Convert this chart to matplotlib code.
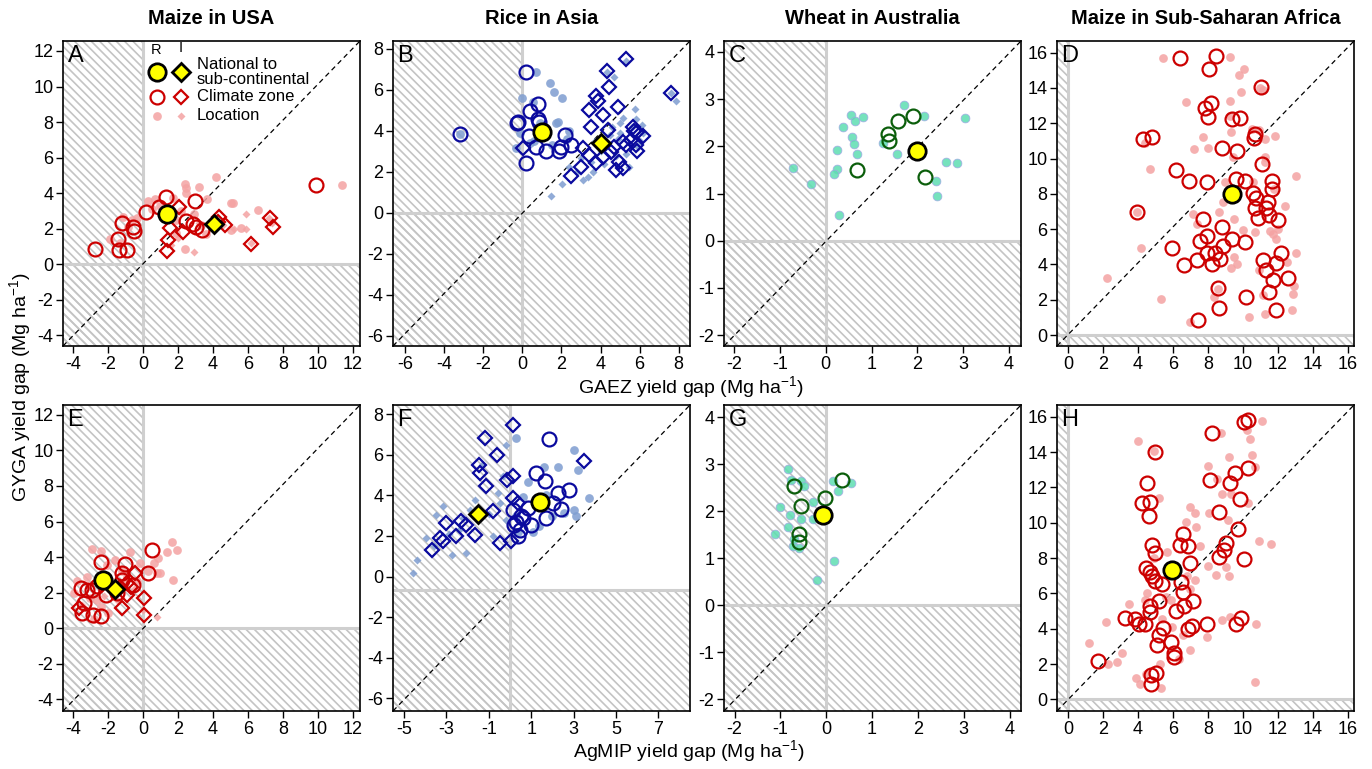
import matplotlib
matplotlib.use("Agg")
import matplotlib.pyplot as plt
from matplotlib.patches import Rectangle

plt.rcParams['font.family'] = ['Liberation Sans', 'DejaVu Sans']
plt.rcParams['axes.unicode_minus'] = False
plt.rcParams['mathtext.fontset'] = 'custom'
plt.rcParams['mathtext.rm'] = 'Liberation Sans'
plt.rcParams['mathtext.it'] = 'Liberation Sans:italic'
plt.rcParams['hatch.linewidth'] = 1.2

# ---------------- DATA ----------------
col_titles = ["Maize in USA", "Rice in Asia", "Wheat in Australia", "Maize in Sub-Saharan Africa"]
panel_letters = ["A", "B", "C", "D", "E", "F", "G", "H"]

# Panel A : Maize USA, GAEZ vs GYGA
A_nat_R = (1.35, 2.8)
A_nat_I = (4.05, 2.25)
A_cz_R_x = [9.9, 2.95, 1.33, 0.15, 0.9, -1.22, -0.55, -0.5, -1.43, -1.35, -0.9, -2.75, 2.45, 2.83, 3.02, 3.4]
A_cz_R_y = [4.47, 3.58, 3.78, 2.92, 3.2, 2.3, 2.1, 1.86, 1.41, 0.8, 0.82, 0.83, 2.43, 2.25, 2.1, 1.9]
A_cz_I_x = [2.08, 1.55, 2.26, 1.45, 1.35, 4.37, 4.68, 4.3, 7.23, 7.45, 6.15]
A_cz_I_y = [3.2, 2.03, 1.84, 1.37, 0.73, 2.68, 2.21, 2.35, 2.6, 2.08, 1.16]
A_loc_R_x = [4.18, 2.38, 2.43, 3.19, 2.47, 11.37, 5.04, 5.13, 6.56, 3.67, 0.29, 0.67, 1.71, -1.14, -0.34,
             -0.86, -1.9, -1.33, 2.38, 5.04, 5.6, 1.9, 1.0, 2.2, 2.9, 3.3, -0.6, 0.5, 1.9, 3.6]
A_loc_R_y = [4.93, 4.5, 4.28, 4.37, 4.0, 4.47, 3.47, 3.43, 3.06, 3.66, 3.58, 3.66, 3.71, 2.68, 2.59,
             2.12, 1.41, 1.18, 0.84, 1.93, 2.03, 1.74, 3.3, 3.0, 2.8, 2.2, 2.5, 3.1, 2.5, 1.7]
A_loc_I_x = [5.89, 2.91, 5.89, 4.6, 6.2, 7.35, 4.1, 2.0, 1.6, 7.2, 5.2, 3.2]
A_loc_I_y = [2.81, 0.71, 1.97, 2.2, 1.2, 2.3, 2.6, 1.5, 1.1, 2.6, 2.0, 2.3]

# Panel B : Rice Asia, GAEZ vs GYGA
B_nat_R = (1.02, 3.97)
B_nat_I = (4.02, 3.43)
B_cz_R_x = [0.17, -3.19, 0.8, 0.37, 0.8, -0.22, 0.34, 0.71, 1.22, 1.9, 2.16, 2.5, 1.99, 0.2, 0.85, -0.27]
B_cz_R_y = [6.86, 3.85, 5.3, 4.98, 4.57, 4.42, 3.77, 3.24, 3.02, 3.02, 3.8, 3.32, 3.24, 2.42, 4.45, 4.37]
B_cz_I_x = [5.3, 4.31, 4.45, 3.77, 3.85, 3.4, 4.11, 4.87, 7.59, 3.51, 4.36, 5.64, 5.89, 6.15, 5.55, 5.81,
            5.89, 5.13, 3.09, 3.43, 3.77, 3.0, 2.5, 4.53, 4.96, 5.13, 4.79, 0.03, 4.11, 5.3, 5.7, 4.7]
B_cz_I_y = [7.5, 6.94, 6.13, 5.71, 5.48, 5.02, 4.78, 5.15, 5.84, 4.21, 4.05, 4.21, 3.97, 3.76, 3.56, 3.32,
            3.0, 3.48, 3.15, 2.83, 2.42, 2.26, 1.8, 2.99, 2.5, 2.18, 2.1, 3.15, 2.75, 3.3, 4.0, 3.2]
B_loc_R_x = [0.71, 1.39, 1.6, 2.04, 0.0, 0.54, 1.73, 2.41, -0.31, -3.19, 0.6, 1.5, 0.9, 1.2, -0.1, 2.3, 0.4, 1.85]
B_loc_R_y = [6.89, 6.33, 5.92, 5.59, 5.59, 5.43, 4.41, 4.02, 3.15, 3.85, 3.5, 3.3, 4.4, 3.9, 3.9, 3.6, 3.4, 4.45]
B_loc_I_x = [1.48, 2.04, 2.41, 3.34, 3.6, 4.7, 5.3, 4.35, 5.77, 7.84, 7.59, 5.13, 5.6, 4.6, 5.0, 5.47, 3.09,
             4.2, 6.1, 5.8, 4.0, 3.0, 3.7, 4.9, 5.9, 6.2, 4.5, 2.8, 3.5, 4.8, 5.3, 5.0, 6.0]
B_loc_I_y = [0.83, 1.41, 2.23, 1.77, 2.0, 6.65, 7.43, 6.9, 5.06, 5.46, 5.84, 4.62, 4.2, 4.2, 3.9, 2.26, 1.61,
             2.4, 4.3, 4.6, 3.0, 2.7, 3.5, 3.6, 3.2, 3.9, 3.8, 2.0, 2.5, 2.8, 2.9, 4.4, 3.5]

# Panel C : Wheat Australia, GAEZ vs GYGA
C_nat_R = (1.99, 1.9)
C_cz_R_x = [1.91, 1.58, 1.35, 1.38, 0.69, 2.17]
C_cz_R_y = [2.65, 2.53, 2.27, 2.12, 1.5, 1.35]
C_loc_R_x = [-0.71, -0.33, 0.56, 0.63, 0.81, 0.38, 0.57, 0.61, 0.25, 0.69, 0.25, 0.18, 0.29, 1.71, 2.14,
             3.03, 1.24, 1.56, 2.62, 2.87, 2.4, 2.43]
C_loc_R_y = [1.53, 1.21, 2.66, 2.53, 2.62, 2.41, 2.2, 2.05, 1.92, 1.83, 1.52, 1.41, 0.54, 2.87, 2.65,
             2.6, 2.08, 1.83, 1.66, 1.65, 1.26, 0.95]

# Panel D : Maize SSA, GAEZ vs GYGA
D_nat_R = (9.35, 8.0)
D_cz_R_x = [6.39, 8.45, 8.05, 11.01, 8.15, 7.82, 8.02, 9.39, 9.83, 4.29, 4.77, 10.69, 10.65, 8.78, 9.64,
            11.11, 6.16, 6.91, 7.92, 9.6, 10.11, 11.64, 11.64, 10.59, 10.74, 11.45, 11.35, 10.69, 10.88,
            11.51, 12.02, 3.95, 7.69, 8.78, 7.92, 7.55, 9.35, 10.11, 8.87, 5.92, 7.92, 8.4, 8.68, 8.26,
            7.35, 6.62, 12.21, 11.16, 11.35, 11.89, 11.74, 12.6, 11.51, 8.59, 10.17, 8.65, 11.89, 7.44]
D_cz_R_y = [15.72, 15.82, 15.1, 14.03, 13.13, 12.86, 12.37, 12.24, 12.28, 11.11, 11.2, 11.39, 11.17, 10.6,
            10.41, 9.7, 9.36, 8.72, 8.66, 8.85, 8.7, 8.72, 8.29, 8.04, 7.78, 7.53, 7.21, 7.21, 6.65, 6.82,
            6.53, 7.0, 6.59, 6.12, 5.59, 5.33, 5.46, 5.27, 5.03, 4.95, 4.65, 4.65, 4.33, 4.05, 4.27, 3.95,
            4.65, 4.24, 3.67, 4.11, 3.11, 3.26, 2.45, 2.67, 2.17, 1.56, 1.41, 0.85]
D_loc_R_x = [5.4, 9.29, 10.06, 9.79, 9.92, 11.13, 6.72, 9.29, 9.26, 7.69, 9.31, 10.53, 10.94, 11.83, 11.26,
             7.19, 8.0, 9.45, 11.26, 11.26, 4.68, 13.03, 8.97, 10.59, 11.79, 8.87, 12.4, 8.65, 7.16, 9.5,
             7.35, 10.02, 10.69, 11.58, 12.02, 11.74, 11.89, 4.14, 13.03, 9.48, 9.68, 9.31, 12.5, 10.94,
             2.23, 12.92, 12.88, 5.34, 8.36, 11.16, 10.36, 11.26, 12.79, 6.97, 3.95, 4.4, 11.0, 8.6]
D_loc_R_y = [15.72, 15.78, 15.1, 14.73, 13.75, 13.88, 13.18, 13.28, 12.43, 11.2, 11.49, 11.68, 11.64, 11.3,
             11.11, 10.55, 10.6, 10.11, 10.08, 9.79, 9.38, 9.0, 8.66, 8.66, 8.29, 7.53, 7.34, 6.97, 6.84,
             6.59, 6.31, 5.93, 5.84, 5.88, 6.03, 5.74, 5.46, 4.95, 4.65, 4.43, 4.05, 3.8, 4.14, 3.71, 3.26,
             2.77, 2.32, 2.07, 2.17, 2.26, 1.04, 1.17, 1.41, 0.72, 7.0, 10.9, 14.0, 2.6]

# Panel E : Maize USA, AgMIP vs GYGA
E_nat_R = (-2.26, 2.72)
E_nat_I = (-1.6, 2.2)
E_cz_R_x = [0.53, 0.29, -2.38, -1.05, -1.18, -3.56, -3.21, -2.89, -3.37, -3.46, -2.83, -2.41, -2.13, -0.55,
            -1.5, -2.6, -1.2]
E_cz_R_y = [4.41, 3.1, 3.75, 3.6, 3.13, 2.25, 2.16, 2.16, 1.41, 0.84, 0.75, 0.71, 1.88, 2.44, 2.0, 2.4, 2.7]
E_cz_I_x = [-0.48, -0.89, -0.93, -1.18, 0.06, 0.06, -3.65, -1.3, -0.7]
E_cz_I_y = [3.13, 2.53, 1.88, 1.16, 1.69, 0.75, 1.13, 2.3, 2.3]
E_loc_R_x = [1.67, 1.92, -2.89, -2.41, -1.6, -0.74, -0.17, 0.63, 0.87, 1.35, 0.82, 1.0, 1.73, -0.36, -2.03,
             -3.75, -3.02, -2.41, -2.0, -2.79, -3.94, -1.2, -2.6, -3.2, 0.3, -0.9, -1.9]
E_loc_R_y = [4.84, 4.41, 4.47, 4.32, 3.85, 4.26, 3.66, 3.66, 3.94, 4.26, 3.1, 3.1, 2.72, 2.63, 3.56,
             2.63, 1.69, 1.22, 0.84, 0.51, 1.97, 3.2, 1.6, 2.9, 3.2, 2.9, 2.2]
E_loc_I_x = [0.78, -0.5, -1.0, -2.2, -3.5, 0.0, -1.5]
E_loc_I_y = [0.62, 2.2, 2.6, 1.8, 1.3, 1.0, 1.6]

# Panel F : Rice Asia, AgMIP vs GYGA
F_nat_R = (1.42, 3.65)
F_nat_I = (-1.51, 3.08)
F_cz_R_x = [1.83, 1.23, 1.67, 2.8, 2.25, 2.41, 1.7, 1.0, 0.53, 0.21, 0.37, 2.01, 0.13, 0.84, 0.6, 0.3, 0.45]
F_cz_R_y = [6.77, 5.1, 4.73, 4.28, 4.11, 3.34, 2.88, 2.56, 2.96, 2.56, 1.98, 3.62, 3.29, 3.38, 2.9, 2.7, 2.3]
F_cz_I_x = [0.13, -1.2, -0.62, -1.48, -1.43, -1.15, -0.15, 0.13, 0.13, 0.37, 3.5, -0.81, -3.0, -2.29, -1.67,
            -2.53, -3.31, -3.7, -3.16, -0.49, 0.06, -2.06]
F_cz_I_y = [7.47, 6.81, 6.0, 5.5, 5.1, 4.47, 4.77, 4.93, 3.87, 3.62, 5.67, 3.21, 2.64, 2.72, 2.06,
            1.98, 1.9, 1.33, 1.73, 1.66, 1.73, 2.56]
F_loc_R_x = [0.29, 3.03, 3.19, 3.74, 3.03, 3.1, 2.25, 1.6, 0.84, 1.39, 2.56, 0.29, 0.6, 1.1, 2.0, 1.7, 0.4]
F_loc_R_y = [6.81, 6.21, 5.26, 3.87, 3.29, 2.96, 5.42, 5.42, 4.68, 2.47, 3.13, 2.96, 3.9, 2.2, 3.0, 4.0, 2.2]
F_loc_I_x = [-0.18, -0.57, -1.67, -3.16, -3.47, -3.94, -4.41, -4.57, -2.76, -2.06, -0.34, -0.49, -1.9, -2.4,
             -1.0, -0.8, -2.9, -3.6, -1.3, -0.2, -2.2]
F_loc_I_y = [6.49, 4.11, 3.78, 3.46, 3.05, 1.9, 0.84, 0.18, 1.08, 1.16, 4.93, 3.62, 3.3, 2.3,
             3.1, 2.0, 2.1, 1.5, 5.5, 2.8, 2.9]

# Panel G : Wheat Australia, AgMIP vs GYGA
G_nat_R = (-0.06, 1.91)
G_cz_R_x = [0.34, -0.02, -0.7, -0.55, -0.59, -0.59]
G_cz_R_y = [2.67, 2.29, 2.54, 2.12, 1.52, 1.34]
G_loc_R_x = [-0.84, -0.77, -0.55, -0.49, -1.0, -0.79, -0.55, -0.84, -1.11, -0.73, -0.59, -0.29, -0.29, 0.14,
             0.25, 0.54, 0.16, -0.2, -0.7, -0.05]
G_loc_R_y = [2.89, 2.67, 2.65, 2.54, 2.08, 1.92, 1.84, 1.66, 1.52, 1.27, 1.22, 2.19, 1.83, 2.65,
             2.42, 2.61, 0.95, 0.54, 1.4, 2.0]

# Panel H : Maize SSA, AgMIP vs GYGA
H_nat_R = (5.95, 7.34)
H_cz_R_x = [10.06, 10.27, 8.26, 4.96, 10.31, 9.54, 9.29, 8.15, 4.52, 4.26, 4.71, 4.64, 9.83, 8.65, 9.73,
            6.55, 6.39, 6.87, 4.83, 4.96, 9.03, 8.91, 8.65, 10.06, 6.97, 4.48, 4.71, 4.83, 4.96, 5.4, 6.49,
            6.55, 7.16, 6.62, 6.2, 5.21, 4.68, 4.68, 3.24, 3.82, 4.06, 4.39, 5.44, 5.21, 5.11, 5.92, 6.05,
            6.05, 6.87, 7.12, 7.96, 9.6, 9.92, 1.72, 5.06, 4.77, 4.77]
H_cz_R_y = [15.69, 15.82, 15.1, 13.99, 13.13, 12.81, 12.24, 12.43, 12.28, 11.11, 11.15, 10.4, 11.34, 10.6,
            9.66, 9.38, 8.72, 8.66, 8.72, 8.29, 8.85, 8.47, 8.04, 7.95, 7.72, 7.44, 7.19, 6.97, 6.72, 6.55,
            6.65, 6.08, 5.56, 5.27, 4.99, 5.56, 5.27, 4.95, 4.61, 4.56, 4.29, 4.24, 4.05, 3.63, 3.07, 3.26,
            2.64, 2.41, 3.99, 4.14, 4.24, 4.24, 4.61, 2.17, 1.51, 1.37, 0.85]
H_loc_R_x = [4.01, 4.92, 8.78, 11.07, 10.25, 10.4, 10.5, 9.22, 8.02, 10.71, 8.53, 8.8, 9.35, 5.21, 10.31,
             6.97, 7.25, 8.07, 6.77, 7.31, 9.16, 10.94, 11.64, 7.54, 5.69, 8.02, 9.06, 8.45, 9.22, 7.25,
             6.97, 5.88, 3.47, 4.39, 2.16, 5.38, 5.95, 6.58, 7.96, 8.82, 9.29, 10.78, 1.18, 3.11, 2.29,
             2.82, 5.25, 3.87, 4.1, 5.34, 4.45, 7.0, 6.34, 10.69, 4.9, 5.6, 6.8, 4.5]
H_loc_R_y = [14.65, 14.07, 15.1, 15.78, 15.25, 14.73, 13.84, 13.75, 13.24, 13.15, 12.47, 11.64, 11.64, 11.39,
             11.11, 10.89, 10.55, 10.58, 10.02, 9.76, 10.13, 8.98, 8.81, 8.66, 8.32, 7.57, 7.5, 7.06, 7.0,
             6.78, 6.27, 5.65, 5.42, 5.65, 4.39, 4.56, 4.11, 3.67, 3.54, 4.52, 4.67, 4.24, 3.2, 2.64, 2.02,
             2.13, 1.98, 1.19, 0.85, 0.62, 1.41, 2.79, 2.3, 1.0, 8.0, 5.8, 7.0, 6.0]

# axis settings per panel
ticks_usa = [-4, -2, 0, 2, 4, 6, 8, 10, 12]
ticks_rice = [-6, -4, -2, 0, 2, 4, 6, 8]
ticks_rice_agmip_x = [-5, -3, -1, 1, 3, 5, 7]
ticks_wheat = [-2, -1, 0, 1, 2, 3, 4]
ticks_ssa = [0, 2, 4, 6, 8, 10, 12, 14, 16]

# ---------------- STYLE ----------------
MAIZE = dict(cz='#CC0000', loc='#F4A3A3', loc_edge='none')
RICE = dict(cz='#0A0A9E', loc='#7E9DD0', loc_edge='none')
WHEAT = dict(cz='#0B5E0B', loc='#5EDDB2', loc_edge='#9FA8E4')
HATCH_COL = '#C4C4C4'

fig = plt.figure(figsize=(13.72, 7.69), dpi=100)

W, H = 1372.0, 769.0
col_left = [63, 393, 724, 1057]
col_w = 297
row_top = [41, 405]
row_h = [305, 306]


def make_ax(r, c):
    l = col_left[c] / W
    b = 1 - (row_top[r] + row_h[r]) / H
    return fig.add_axes([l, b, col_w / W, row_h[r] / H])


def draw(ax, xlim, ylim, xt, yt, y0, letter, sty, locR=None, locI=None, czR=None, czI=None,
         natR=None, natI=None):
    ax.set_xlim(*xlim)
    ax.set_ylim(*ylim)
    # hatched "invalid" regions
    ax.add_patch(Rectangle((xlim[0], ylim[0]), 0 - xlim[0], ylim[1] - ylim[0], facecolor='none',
                           edgecolor=HATCH_COL, hatch='\\\\\\\\', linewidth=0, zorder=0))
    ax.add_patch(Rectangle((xlim[0], ylim[0]), xlim[1] - xlim[0], y0 - ylim[0], facecolor='none',
                           edgecolor=HATCH_COL, hatch='\\\\\\\\', linewidth=0, zorder=0))
    ax.axvline(0, color='#CFCFCF', lw=2.2, zorder=1)
    ax.axhline(y0, color='#CFCFCF', lw=2.2, zorder=1)
    ax.plot([0, 1], [0, 1], transform=ax.transAxes, color='black', lw=0.9, ls=(0, (4, 3)), zorder=2)
    if locR is not None:
        ax.plot(locR[0], locR[1], 'o', ms=6.3, mfc=sty['loc'], mec=sty['loc_edge'], mew=0.6,
                alpha=0.85, ls='none', zorder=3)
    if locI is not None:
        ax.plot(locI[0], locI[1], 'D', ms=4.5, mfc=sty['loc'], mec='none', alpha=0.85, ls='none', zorder=3)
    if czR is not None:
        ax.plot(czR[0], czR[1], 'o', ms=10.0, mfc='none', mec=sty['cz'], mew=1.6, ls='none', zorder=4)
    if czI is not None:
        ax.plot(czI[0], czI[1], 'D', ms=7.6, mfc='none', mec=sty['cz'], mew=1.6, ls='none', zorder=4)
    if natR is not None:
        ax.plot([natR[0]], [natR[1]], 'o', ms=12.5, mfc='#FFFF00', mec='black', mew=2.0, zorder=5)
    if natI is not None:
        ax.plot([natI[0]], [natI[1]], 'D', ms=9.0, mfc='#FFFF00', mec='black', mew=2.0, zorder=5)
    ax.set_xticks(xt)
    ax.set_yticks(yt)
    ax.tick_params(direction='out', length=5, width=1, labelsize=13, pad=2, colors='black')
    for s in ax.spines.values():
        s.set_linewidth(1.2)
    ax.text(0.015, 0.988, letter, transform=ax.transAxes, ha='left', va='top', fontsize=17, zorder=6)


axA = make_ax(0, 0)
draw(axA, (-4.57, 12.4), (-4.6, 12.56), ticks_usa, ticks_usa, 0, 'A', MAIZE,
     (A_loc_R_x, A_loc_R_y), (A_loc_I_x, A_loc_I_y), (A_cz_R_x, A_cz_R_y), (A_cz_I_x, A_cz_I_y),
     A_nat_R, A_nat_I)
axB = make_ax(0, 1)
draw(axB, (-6.62, 8.58), (-6.49, 8.39), ticks_rice, ticks_rice, 0, 'B', RICE,
     (B_loc_R_x, B_loc_R_y), (B_loc_I_x, B_loc_I_y), (B_cz_R_x, B_cz_R_y), (B_cz_I_x, B_cz_I_y),
     B_nat_R, B_nat_I)
axC = make_ax(0, 2)
draw(axC, (-2.22, 4.26), (-2.23, 4.23), ticks_wheat, ticks_wheat, 0, 'C', WHEAT,
     (C_loc_R_x, C_loc_R_y), None, (C_cz_R_x, C_cz_R_y), None, C_nat_R, None)
axD = make_ax(0, 3)
draw(axD, (-0.64, 16.36), (-0.62, 16.66), ticks_ssa, ticks_ssa, 0, 'D', MAIZE,
     (D_loc_R_x, D_loc_R_y), None, (D_cz_R_x, D_cz_R_y), None, D_nat_R, None)
axE = make_ax(1, 0)
draw(axE, (-4.57, 12.4), (-4.65, 12.55), ticks_usa, ticks_usa, 0, 'E', MAIZE,
     (E_loc_R_x, E_loc_R_y), (E_loc_I_x, E_loc_I_y), (E_cz_R_x, E_cz_R_y), (E_cz_I_x, E_cz_I_y),
     E_nat_R, E_nat_I)
axF = make_ax(1, 1)
draw(axF, (-5.52, 8.49), (-6.62, 8.45), ticks_rice_agmip_x, ticks_rice, -0.65, 'F', RICE,
     (F_loc_R_x, F_loc_R_y), (F_loc_I_x, F_loc_I_y), (F_cz_R_x, F_cz_R_y), (F_cz_I_x, F_cz_I_y),
     F_nat_R, F_nat_I)
axG = make_ax(1, 2)
draw(axG, (-2.23, 4.25), (-2.25, 4.26), ticks_wheat, ticks_wheat, 0, 'G', WHEAT,
     (G_loc_R_x, G_loc_R_y), None, (G_cz_R_x, G_cz_R_y), None, G_nat_R, None)
axH = make_ax(1, 3)
draw(axH, (-0.63, 16.36), (-0.66, 16.67), ticks_ssa, ticks_ssa, 0, 'H', MAIZE,
     (H_loc_R_x, H_loc_R_y), None, (H_cz_R_x, H_cz_R_y), None, H_nat_R, None)

# legend inside panel A
T = axA.transAxes
lx_R, lx_I, lx_t = 0.315, 0.396, 0.45
axA.text(lx_R, 0.972, 'R', transform=T, ha='center', va='center', fontsize=10.5)
axA.text(lx_I, 0.978, 'I', transform=T, ha='center', va='center', fontsize=10.5)
axA.plot([lx_R], [0.898], 'o', transform=T, ms=12.5, mfc='#FFFF00', mec='black', mew=2.0, zorder=7)
axA.plot([lx_I], [0.898], 'D', transform=T, ms=9.0, mfc='#FFFF00', mec='black', mew=2.0, zorder=7)
axA.text(lx_t, 0.898, 'National to\nsub-continental', transform=T, ha='left', va='center',
         fontsize=12, linespacing=0.95)
axA.plot([lx_R], [0.818], 'o', transform=T, ms=10.0, mfc='none', mec=MAIZE['cz'], mew=1.6, zorder=7)
axA.plot([lx_I], [0.818], 'D', transform=T, ms=7.6, mfc='none', mec=MAIZE['cz'], mew=1.6, zorder=7)
axA.text(lx_t, 0.818, 'Climate zone', transform=T, ha='left', va='center', fontsize=12)
axA.plot([lx_R], [0.755], 'o', transform=T, ms=6.3, mfc=MAIZE['loc'], mec='none', alpha=0.85, zorder=7)
axA.plot([lx_I], [0.755], 'D', transform=T, ms=4.5, mfc=MAIZE['loc'], mec='none', alpha=0.85, zorder=7)
axA.text(lx_t, 0.755, 'Location', transform=T, ha='left', va='center', fontsize=12)

# column titles
for c, t in enumerate(col_titles):
    cx = (col_left[c] + col_w / 2) / W
    fig.text(cx, 1 - 19 / H, t, ha='center', va='center', fontsize=14.5, fontweight='bold')

fig.text(691 / W, 1 - 387 / H, 'GAEZ yield gap (Mg ha$^{-1}$)', ha='center', va='center', fontsize=14)
fig.text(689 / W, 1 - 751 / H, 'AgMIP yield gap (Mg ha$^{-1}$)', ha='center', va='center', fontsize=14)
fig.text(20 / W, 1 - 387 / H, 'GYGA yield gap (Mg ha$^{-1}$)', ha='center', va='center', fontsize=14,
         rotation=90)

fig.savefig('out.png', dpi=100, facecolor='white')
